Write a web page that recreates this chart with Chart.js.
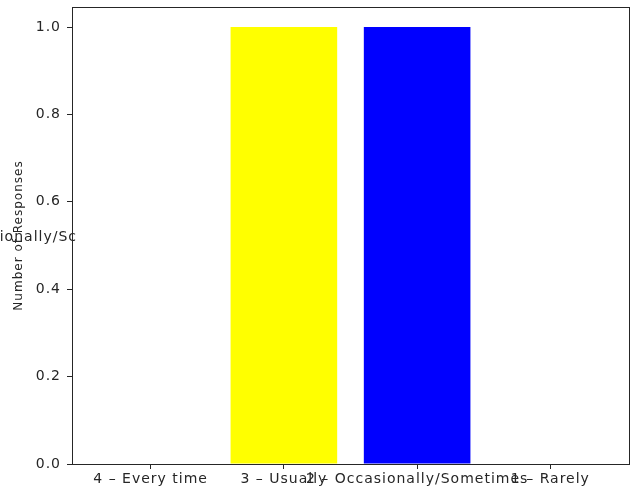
<!DOCTYPE html>
<html>
<head>
<meta charset="utf-8">
<script src="https://cdn.jsdelivr.net/npm/chart.js@4.4.1/dist/chart.umd.min.js"></script>
<style>
  html, body { margin: 0; padding: 0; background: #fff; }
  #wrap { width: 632px; height: 493px; position: relative; }
</style>
</head>
<body>
<div id="wrap"><canvas id="responseChart"></canvas></div>
<script>
// data
const categories = ['4 \u2013 Every time', '3 \u2013 Usually', '2 \u2013 Occasionally/Sometimes', '1 \u2013 Rarely'];
const responses = [0, 1, 1, 0];
const barColors = ['green', 'yellow', 'blue', 'red'];
const yTicks = [0, 0.2, 0.4, 0.6, 0.8, 1.0];
const strayLabel = '2 \u2013 Occasionally/Sc';

const textColor = '#262626';
const axisColor = '#262626';
const font = 'DejaVu Sans';

// the reference text is a little stretched, so widen it with letter spacing
const spacingPlugin = {
    id: 'spacing',
    beforeDraw(chart) { chart.ctx.letterSpacing = '1px'; }
};

// clipped label sitting on the y axis, drawn under the frame
const strayPlugin = {
    id: 'stray',
    beforeDatasetsDraw(chart) {
        const { ctx, chartArea: a } = chart;
        ctx.save();
        ctx.fillStyle = textColor;
        ctx.font = '14px "' + font + '"';
        ctx.textAlign = 'right';
        ctx.textBaseline = 'middle';
        ctx.fillText(strayLabel, 77, (a.top + a.bottom) / 2 + 2);
        ctx.restore();
    }
};

// box round the plot area
const framePlugin = {
    id: 'frame',
    afterDraw(chart) {
        const { ctx, chartArea: a } = chart;
        ctx.save();
        ctx.strokeStyle = axisColor;
        ctx.lineWidth = 1;
        ctx.strokeRect(Math.round(a.left) + 0.5, Math.round(a.top) + 0.5,
            Math.round(a.right - a.left), Math.round(a.bottom - a.top));
        ctx.restore();
    }
};

new Chart(document.getElementById('responseChart'), {
    type: 'bar',
    data: {
        datasets: [{
            data: responses.map((v, i) => ({ x: i, y: v })),
            backgroundColor: barColors,
            borderWidth: 0,
            barPercentage: 0.8,
            categoryPercentage: 1
        }]
    },
    options: {
        responsive: true,
        maintainAspectRatio: false,
        animation: false,
        layout: { padding: { top: 7, right: 3, left: 0, bottom: 0 } },
        plugins: { legend: { display: false }, tooltip: { enabled: false } },
        scales: {
            x: {
                type: 'linear',
                offset: false,
                min: -0.59,
                max: 3.59,
                afterBuildTicks: s => { s.ticks = categories.map((c, i) => ({ value: i })); },
                afterFit: s => { s.height = 29; s.paddingLeft = 0; s.paddingRight = 0; },
                grid: { offset: false, drawOnChartArea: false, drawTicks: true, tickLength: 5, color: axisColor },
                border: { display: true, color: axisColor },
                ticks: {
                    autoSkip: false,
                    maxRotation: 0,
                    padding: 2,
                    color: textColor,
                    font: { family: font, size: 14 },
                    callback: v => categories[v]
                }
            },
            y: {
                min: 0,
                max: 1.046,
                afterBuildTicks: s => { s.ticks = yTicks.map(v => ({ value: v })); },
                afterFit: s => { s.width = 72; s.paddingTop = 0; s.paddingBottom = 0; },
                grid: { drawOnChartArea: false, drawTicks: true, tickLength: 5, color: axisColor },
                border: { display: true, color: axisColor },
                ticks: {
                    padding: 6,
                    color: textColor,
                    font: { family: font, size: 14 },
                    callback: v => v.toFixed(1)
                },
                title: {
                    display: true,
                    text: 'Number of Responses',
                    color: textColor,
                    font: { family: font, size: 12 },
                    padding: { top: 12, bottom: 0 }
                }
            }
        }
    },
    plugins: [spacingPlugin, strayPlugin, framePlugin]
});
</script>
</body>
</html>
